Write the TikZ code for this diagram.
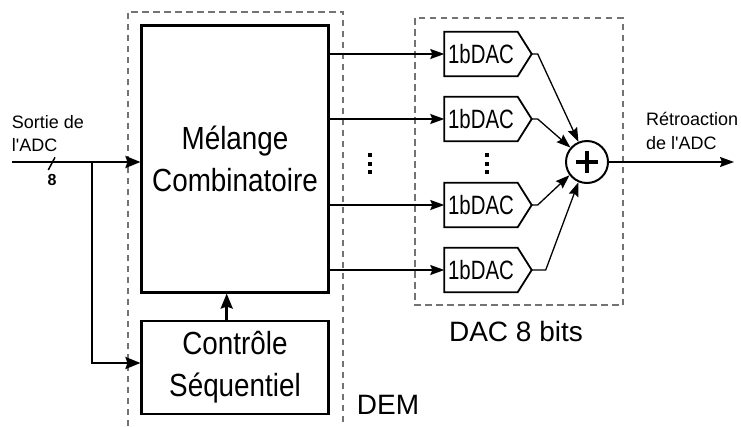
\documentclass[tikz,border=0pt]{standalone}
\usepackage{fontspec}
\setmainfont{Liberation Sans}
\usepackage{graphicx}
\usetikzlibrary{arrows.meta}
\newcommand{\sqz}[2]{\scalebox{#1}[1]{#2}}
\definecolor{dashgray}{RGB}{115,115,115}
\begin{document}
\begin{tikzpicture}[x=1pt,y=-1pt,
  bigbox/.style={draw, line width=2.5pt, minimum width=186.6pt, inner sep=0pt, align=center,
                 font=\fontsize{32}{42}\selectfont},
  dacbody/.style={minimum width=73pt, minimum height=44pt, inner sep=0pt,
                 font=\fontsize{26.5}{30}\selectfont},
  dacline/.style={draw, line width=1.8pt, line join=miter},
  groupbox/.style={draw=dashgray, line width=2pt, dash pattern=on 6.5pt off 4.5pt},
  thinarr/.style={line width=1.3pt, -{Stealth[length=14pt,width=10pt,inset=2pt]}},
  thickarr/.style={line width=2.5pt, -{Stealth[length=15pt,width=12pt,inset=2pt]}},
  smalltext/.style={font=\fontsize{18}{23.4}\selectfont, inner sep=0pt, align=left},
  bigtext/.style={font=\fontsize{28}{34}\selectfont, inner sep=0pt}
]
\useasboundingbox (0,0) rectangle (741,426);

% dashed group boxes
\draw[groupbox] (127.7,426) -- (127.7,11.7) -- (343.3,11.7) -- (343.3,426);
\draw[groupbox] (415,18.3) rectangle (622.7,305.3);

% DEM blocks
\node[bigbox, minimum height=266.6pt] (mel) at (235,159)
  {\sqz{0.87}{Mélange}\\\sqz{0.87}{Combinatoire}};
\node[bigbox, minimum height=93.3pt] (ctl) at (235,367.4)
  {\sqz{0.87}{Contrôle}\\\sqz{0.87}{Séquentiel}};
\draw[thickarr] ([xshift=-8.3pt]ctl.north) -- ([xshift=-8.3pt]mel.south);

% input
\coordinate (src) at (12,162);
\coordinate (br) at (92,162);
\coordinate (cin) at (92,363);
\draw[thickarr] (src) -- (mel.west |- src);
\draw[thickarr] (br) -- (cin) -- (ctl.west |- cin);
\draw[line width=1.5pt] (48.3,170) -- (55,157.3);
\node[font=\fontsize{16}{16}\selectfont\bfseries, inner sep=0pt] (nbits) at (52,180) {8};
\node[smalltext, anchor=base west] (lin) at (11.7,151.7) {Sortie de\\l\textquotesingle ADC};

% DAC blocks
\foreach \i/\y in {1/54,2/119,3/205,4/270}{
  \node[dacbody] (d\i) at (481,\y) {\sqz{0.77}{1bDAC}};
  \coordinate (t\i) at ([xshift=14pt]d\i.east);
  \draw[dacline] (d\i.north west) -- (d\i.north east) -- (t\i) -- (d\i.south east) -- (d\i.south west) -- cycle;
  \draw[thinarr] (mel.east |- d\i.west) -- (d\i.west);
}

% ellipsis dots
\foreach \yy in {155,163.5,172}{
  \fill (368,\yy-2) rectangle ++(4,4);
  \fill (484.7,\yy-2) rectangle ++(4,4);
}

% summing node
\node[draw, circle, line width=2pt, minimum size=42pt, inner sep=0pt] (sum) at (587,162) {};
\draw[line width=3.2pt] ([xshift=-11pt]sum.center) -- ([xshift=11pt]sum.center);
\draw[line width=3.2pt] ([yshift=-11pt]sum.center) -- ([yshift=11pt]sum.center);

\draw[thinarr] (t1) -- ++(6,0) -- (sum.113);
\draw[thinarr] (t2) -- ++(6,0) -- (sum.139);
\draw[thinarr] (t3) -- ++(6,0) -- (sum.217);
\draw[thinarr] (t4) -- ++(14,0) -- (sum.247);

% output
\coordinate (out) at (734,162);
\draw[thinarr] (sum.east) -- (out);
\node[smalltext, anchor=base west] (lout) at (646,149.3) {Rétroaction\\de l\textquotesingle ADC};

% labels
\node[bigtext, anchor=base] (ldac) at (516,341.7) {DAC 8 bits};
\node[bigtext, anchor=base west] (ldem) at (356.7,414) {DEM};
\end{tikzpicture}
\end{document}
